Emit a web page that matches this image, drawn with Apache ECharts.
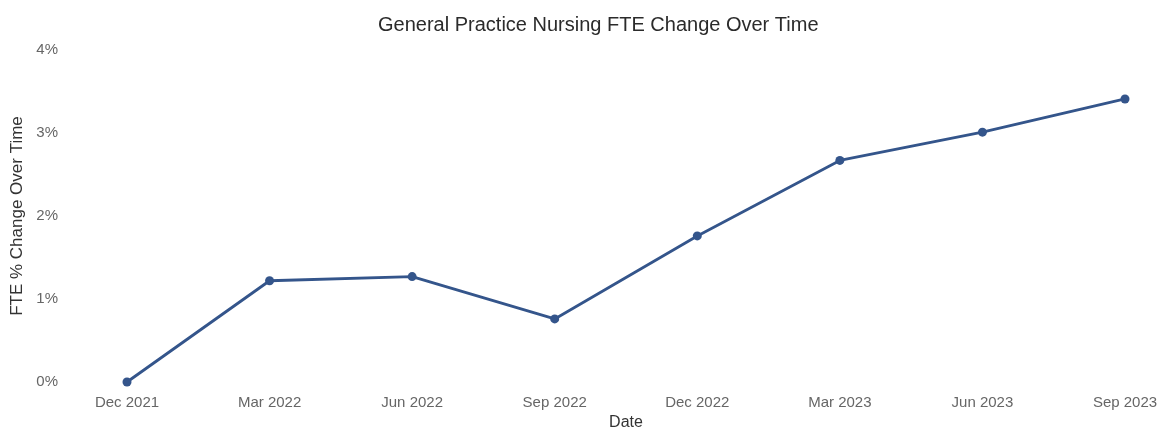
<!DOCTYPE html>
<html>
<head>
<meta charset="utf-8">
<script src="https://cdn.jsdelivr.net/npm/echarts@6/dist/echarts.min.js"></script>
<style>
  html, body { margin: 0; padding: 0; background: #fff; }
  #chart { width: 1161px; height: 427px; }
</style>
</head>
<body>
<div id="chart"></div>
<script>
// Quarterly dates and FTE % change (percent)
const dates = ['Dec 2021', 'Mar 2022', 'Jun 2022', 'Sep 2022', 'Dec 2022', 'Mar 2023', 'Jun 2023', 'Sep 2023'];
const fteChange = [0.00, 1.22, 1.27, 0.76, 1.76, 2.67, 3.01, 3.41];

const font = '"Liberation Sans", Arial, sans-serif';
const chart = echarts.init(document.getElementById('chart'));
chart.setOption({
  animation: false,
  title: {
    text: 'General Practice Nursing FTE Change Over Time',
    left: 373,
    top: 10,
    textStyle: { fontFamily: font, fontSize: 20, fontWeight: 'normal', color: '#2b2b2b' }
  },
  grid: { left: 127, right: 36, top: 50, bottom: 45, outerBoundsMode: 'none' },
  xAxis: {
    type: 'category',
    data: dates,
    boundaryGap: false,
    name: 'Date',
    nameLocation: 'middle',
    nameGap: 31,
    nameTextStyle: { fontFamily: font, fontSize: 16, color: '#333' },
    axisLine: { show: false },
    axisTick: { show: false },
    axisLabel: { fontFamily: font, fontSize: 15, color: '#666', margin: 13 }
  },
  yAxis: {
    type: 'value',
    min: 0,
    max: 4,
    interval: 1,
    name: 'FTE % Change Over Time',
    nameLocation: 'middle',
    nameGap: 100,
    nameTextStyle: { fontFamily: font, fontSize: 17, color: '#333' },
    axisLine: { show: false },
    axisTick: { show: false },
    splitLine: { show: false },
    axisLabel: { fontFamily: font, fontSize: 15, color: '#666', margin: 69, formatter: '{value}%' }
  },
  series: [{
    type: 'line',
    data: fteChange,
    symbol: 'circle',
    symbolSize: 9,
    lineStyle: { color: '#34558b', width: 2.8 },
    itemStyle: { color: '#34558b' }
  }]
});
</script>
</body>
</html>
